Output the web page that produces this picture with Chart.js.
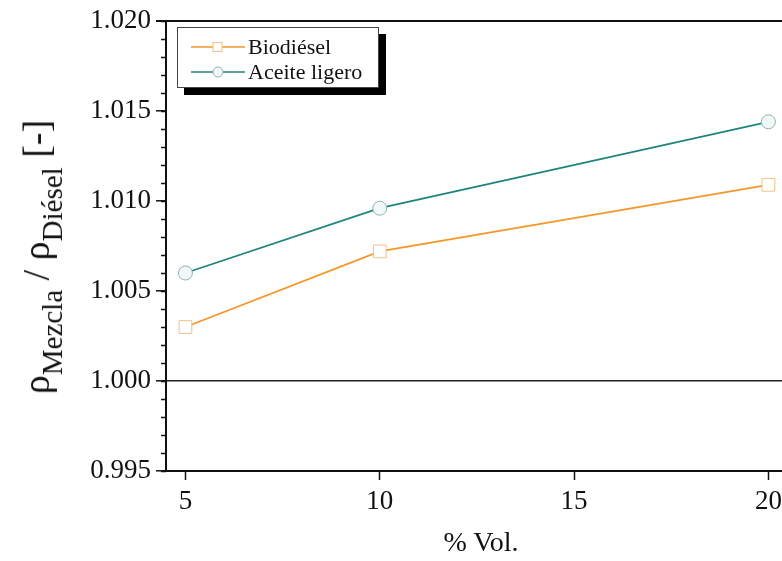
<!DOCTYPE html>
<html lang="es">
<head>
  <meta charset="UTF-8">
  <title>Densidad relativa de mezclas</title>
  <script src="https://cdn.jsdelivr.net/npm/chart.js"></script>
  <style>
    * { box-sizing: border-box; }
    body { margin: 0; background: #fff; }
    #wrap { position: relative; width: 782px; height: 561px; overflow: hidden; font-family: 'Liberation Serif', 'Times New Roman', serif; color: #111; }
    #wrap canvas { position: absolute; left: 0; top: 0; }
    .ytitle { position: absolute; left: 42px; top: 257px; transform: translate(-50%, -50%) rotate(-90deg); white-space: nowrap; font-size: 38px; line-height: 1; }
    .ytitle sub { font-size: 29px; vertical-align: -0.45em; }
    .xtitle { position: absolute; left: 481px; top: 542px; transform: translate(-50%, -50%); font-size: 28px; white-space: nowrap; }
    .legend { position: absolute; left: 177px; top: 27px; width: 202px; height: 61px; background: #fff; border: 1px solid #444; box-shadow: 7px 7px 0 #000; padding-top: 6px; }
    .legend div { display: flex; align-items: center; height: 25px; font-size: 22px; }
    .legend svg { margin-left: 13px; margin-right: 3px; }
  </style>
</head>
<body>
  <div id="wrap">
    <canvas id="chart" width="782" height="561"></canvas>
    <div class="ytitle">ρ<sub>Mezcla</sub> / ρ<sub>Diésel</sub> [-]</div>
    <div class="xtitle">% Vol.</div>
    <div class="legend">
      <div><svg width="54" height="14"><line x1="0" y1="7" x2="54" y2="7" stroke="#f5962a" stroke-width="1.5"/><rect x="22" y="2.5" width="9" height="9" fill="#fff" stroke="#f0c08a" stroke-width="1"/></svg>Biodiésel</div>
      <div><svg width="54" height="14"><line x1="0" y1="7" x2="54" y2="7" stroke="#1f857b" stroke-width="1.5"/><circle cx="27" cy="7" r="5" fill="#f2f8f8" stroke="#8fb3ad" stroke-width="1"/></svg>Aceite ligero</div>
    </div>
  </div>
  <script>
    // datos
    const volPct = [5, 10, 20];
    const biodiesel = [1.0030, 1.0072, 1.0109];
    const aceiteLigero = [1.0060, 1.0096, 1.0144];
    const xTicks = [5, 10, 15, 20];
    const yTicks = [0.995, 1.000, 1.005, 1.010, 1.015, 1.020];

    const serif = "'Liberation Serif', 'Times New Roman', serif";
    const pts = arr => volPct.map((x, i) => ({ x, y: arr[i] }));

    // ticks menores del eje y + línea superior del marco
    const frame = {
      id: 'frame',
      afterDraw(chart) {
        const { ctx, chartArea: a, scales: { y } } = chart;
        ctx.save();
        ctx.strokeStyle = '#111';
        ctx.lineWidth = 1.5;
        ctx.beginPath();
        for (let v = 0.995; v < 1.0201; v += 0.001) {
          const py = Math.round(y.getPixelForValue(v)) + 0.5;
          ctx.moveTo(a.left, py); ctx.lineTo(a.left - 5, py);
        }
        ctx.stroke();
        ctx.lineWidth = 2;
        ctx.beginPath();
        ctx.moveTo(a.left - 10, a.top); ctx.lineTo(a.right, a.top);
        ctx.stroke();
        ctx.restore();
      }
    };

    new Chart(document.getElementById('chart'), {
      type: 'line',
      data: {
        datasets: [
          { label: 'Biodiésel', data: pts(biodiesel), borderColor: '#f5962a', borderWidth: 1.8, clip: false,
            pointStyle: 'rect', pointRadius: 9, pointBorderWidth: 1, pointBorderColor: '#f0c08a', pointBackgroundColor: '#fff' },
          { label: 'Aceite ligero', data: pts(aceiteLigero), borderColor: '#1f857b', borderWidth: 1.8, clip: false,
            pointStyle: 'circle', pointRadius: 7, pointBorderWidth: 1, pointBorderColor: '#8fb3ad', pointBackgroundColor: '#f2f8f8' }
        ]
      },
      options: {
        responsive: false,
        animation: false,
        layout: { autoPadding: false, padding: { top: 21, left: 0, right: 0, bottom: 0 } },
        plugins: { legend: { display: false }, tooltip: { enabled: false } },
        scales: {
          x: {
            type: 'linear', min: 4.5, max: 20.35,
            afterBuildTicks: s => { s.ticks = xTicks.map(value => ({ value })); },
            afterFit: s => { s.height = 90; s.paddingLeft = 0; s.paddingRight = 0; },
            border: { color: '#111', width: 2 },
            grid: { drawOnChartArea: false, tickLength: 9, tickColor: '#111', tickWidth: 1.5 },
            ticks: { font: { family: serif, size: 27 }, color: '#111', padding: 6, maxRotation: 0 }
          },
          y: {
            min: 0.995, max: 1.020,
            afterBuildTicks: s => { s.ticks = yTicks.map(value => ({ value })); },
            afterFit: s => { s.width = 166; s.paddingTop = 0; s.paddingBottom = 0; },
            border: { color: '#111', width: 2 },
            grid: {
              color: c => Math.abs(c.tick.value - 1) < 1e-9 ? '#222' : 'rgba(0,0,0,0)',
              lineWidth: 1.6, tickLength: 10, tickColor: '#111', tickWidth: 1.5
            },
            ticks: { font: { family: serif, size: 27 }, color: '#111', padding: 5, callback: v => v.toFixed(3) }
          }
        }
      },
      plugins: [frame]
    });
  </script>
</body>
</html>
